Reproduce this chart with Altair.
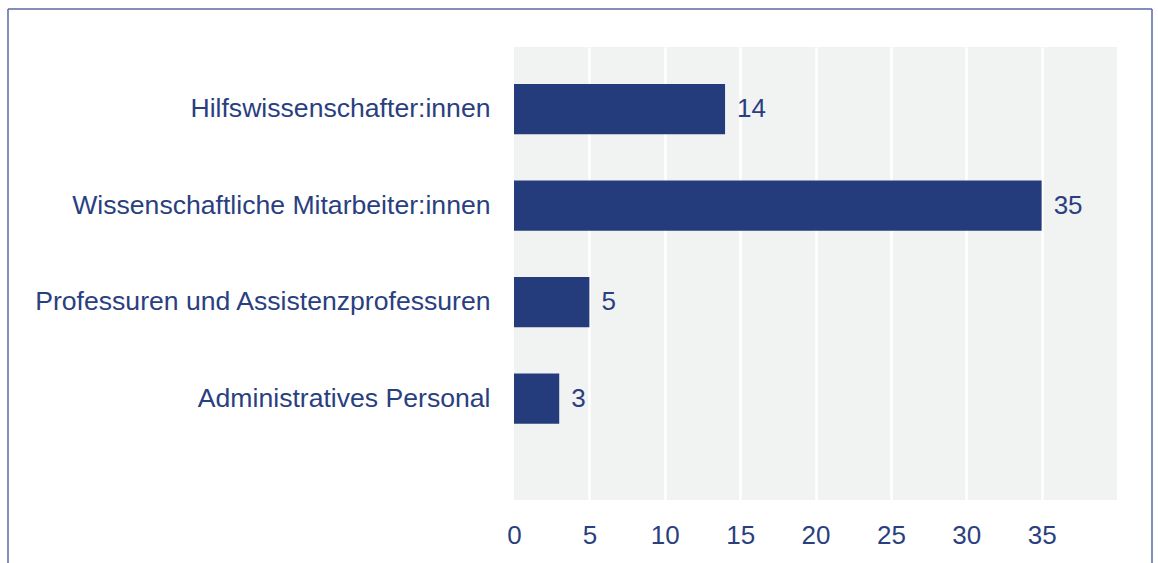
import altair as alt
import pandas as pd

categories = [
    "Hilfswissenschafter:innen",
    "Wissenschaftliche Mitarbeiter:innen",
    "Professuren und Assistenzprofessuren",
    "Administratives Personal",
]
values = [14, 35, 5, 3]
x_ticks = [0, 5, 10, 15, 20, 25, 30, 35]

df = pd.DataFrame({"Kategorie": categories, "Anzahl": values})

NAVY = "#253c7c"
TEXT = "#2a3f80"
FONT = "Liberation Sans"
FS = 26

y_enc = alt.Y(
    "Kategorie:N",
    sort=categories,
    title=None,
    scale=alt.Scale(paddingInner=0.48, paddingOuter=0.587, align=0.327),
    axis=alt.Axis(
        domain=False, ticks=False, tickSize=0, labelPadding=24,
        labelColor=TEXT, labelFont=FONT, labelFontSize=26.6, labelLimit=600,
        grid=False,
    ),
)
x_enc = alt.X(
    "Anzahl:Q",
    title=None,
    scale=alt.Scale(domain=[0, 40], nice=False, zero=True),
    axis=alt.Axis(
        values=x_ticks, domain=False, ticks=False, tickSize=0,
        labelPadding=22, labelColor=TEXT, labelFont=FONT, labelFontSize=FS,
        grid=True, gridColor="white", gridWidth=2.5, labelFlush=False,
        gridOpacity={"condition": {"test": "datum.value === 0", "value": 0}, "value": 1},
    ),
)

bars = alt.Chart(df).mark_bar(color=NAVY).encode(x=x_enc, y=y_enc)
labels = alt.Chart(df).mark_text(
    align="left", baseline="middle", dx=12, color=TEXT, font=FONT, fontSize=FS
).encode(x="Anzahl:Q", y=alt.Y("Kategorie:N", sort=categories), text="Anzahl:Q")

FRAME = "#5a6aa3"
frame_df = pd.DataFrame({"k": [0]})
left_line = alt.Chart(frame_df).mark_rule(color=FRAME, strokeWidth=1.5, clip=False).encode(
    x=alt.value(-506), y=alt.value(-38), y2=alt.value(540)
)
top_line = alt.Chart(frame_df).mark_rule(color=FRAME, strokeWidth=1.5, clip=False).encode(
    x=alt.value(-506), x2=alt.value(638), y=alt.value(-38)
)
right_line = alt.Chart(frame_df).mark_rule(color=FRAME, strokeWidth=1.5, clip=False).encode(
    x=alt.value(638), y=alt.value(-38), y2=alt.value(540)
)

chart = (
    alt.layer(bars, labels, left_line, top_line, right_line)
    .properties(
        width=603,
        height=453,
        autosize=alt.AutoSizeParams(type="none"),
        padding={"left": 514, "top": 47, "right": 41, "bottom": 63},
        background="white",
    )
    .configure_view(fill="#f1f2f2", stroke=None)
)

chart.save("out.html", embed_options={"renderer": "svg", "actions": False})
